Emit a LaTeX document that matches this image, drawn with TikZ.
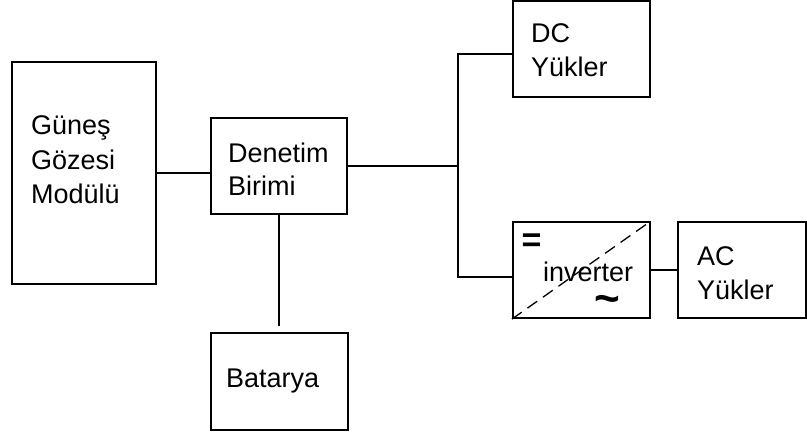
\documentclass[tikz,border=0pt]{standalone}
\usepackage{fontspec}
\setmainfont{Liberation Sans}
\begin{document}
\begin{tikzpicture}[x=1pt,y=-1pt,
  box/.style={draw=black,line width=2.2pt,rectangle,inner sep=0pt},
  lbl/.style={anchor=base west,inner sep=0pt,font=\fontsize{27}{32}\selectfont},
  wire/.style={line width=2.2pt}]
\useasboundingbox (0,0) rectangle (807,436);
% boxes
\node[box,minimum width=144pt,minimum height=222pt] (gunes) at (84,173) {};
\node[box,minimum width=136pt,minimum height=96pt] (denetim) at (279,166) {};
\node[box,minimum width=137pt,minimum height=97pt] (batarya) at (279.5,381.5) {};
\node[box,minimum width=137pt,minimum height=96pt] (dc) at (581.5,49) {};
\node[box,minimum width=137pt,minimum height=96pt] (inv) at (581.5,270) {};
\node[box,minimum width=128pt,minimum height=96pt] (ac) at (742,270) {};
% labels
\node[lbl] (g1) at (31,135) {Güneş};
\node[lbl] (g2) at (31,169) {Gözesi};
\node[lbl] (g3) at (31,203) {Modülü};
\node[lbl] (d1) at (228,162) {Denetim};
\node[lbl] (d2) at (228,195) {Birimi};
\node[lbl] (b1) at (226,387) {Batarya};
\node[lbl] (dc1) at (531,43) {DC};
\node[lbl] (dc2) at (531,77) {Yükler};
\node[lbl] (ac1) at (697,265) {AC};
\node[lbl] (ac2) at (697,299) {Yükler};
% inverter contents
\draw[line width=1.3pt,dash pattern=on 12pt off 7pt] (inv.south west) -- (inv.north east);
\node[lbl] (inv1) at (543,281) {inverter};
\node[anchor=center,inner sep=0pt,font=\fontsize{34}{34}\selectfont\bfseries] (eq) at (531.5,242.5) {=};
\node[anchor=base,inner sep=0pt,font=\fontsize{44}{44}\selectfont\bfseries] (tl) at (607.5,313) {\char`\~};
% connectors
\coordinate (busTop) at (458,54);
\coordinate (busBot) at (458,277);
\coordinate (batEnd) at (279,326);
\draw[wire] (gunes.east |- 0,173) -- (denetim.west |- 0,173);
\draw[wire] (denetim.east |- 0,166) -- (busTop |- 0,166);
\draw[wire] (dc.west |- busTop) -- (busTop) -- (busBot) -- (inv.west |- busBot);
\draw[wire] (denetim.south) -- (batEnd);
\draw[wire] (inv.east |- 0,270) -- (ac.west |- 0,270);
\end{tikzpicture}
\end{document}
